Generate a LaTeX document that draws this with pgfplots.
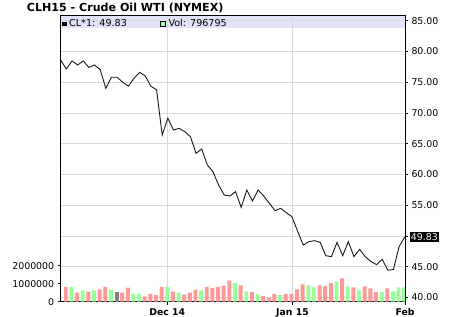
\documentclass[border=0pt]{standalone}
\usepackage{pgfplots}
\pgfplotsset{compat=1.18}
\usepackage{fontspec}
\setmainfont{DejaVu Sans}
\definecolor{volup}{RGB}{153,255,153}
\definecolor{voldn}{RGB}{255,153,153}
\definecolor{volflat}{RGB}{128,128,128}
\definecolor{bandc}{RGB}{226,226,250}
\definecolor{gridc}{RGB}{218,218,218}
\begin{document}
\begin{tikzpicture}
\path[use as bounding box, fill=white] (0,0) rectangle (450bp,317bp);
\fill[bandc] (60.7bp,288.7bp) rectangle (405bp,301.3bp);
% price axis
\begin{axis}[
  at={(60.7bp,15.3bp)}, anchor=south west, scale only axis,
  width=344.3bp, height=286bp,
  xmin=-0.9, xmax=60.15, ymin=39.32, ymax=85.81,
  clip mode=individual,
  xtick={18,40.2,60.15},
  xticklabels={\textbf{Dec 14},\textbf{Jan 15},\textbf{Feb}},
  ytick={40,45,50,55,60,65,70,75,80,85},
  yticklabels={40.00,45.00,{},55.00,60.00,65.00,70.00,75.00,80.00,85.00},
  xtick pos=bottom, ytick pos=right, yticklabel pos=right,
  tick align=outside, major tick length=3bp,
  tick style={black, line width=0.8bp},
  grid=major, grid style={gridc, line width=0.9bp},
  axis line style={black, line width=0.9bp},
  xticklabel style={font=\fontsize{9.3bp}{10bp}\selectfont},
  yticklabel style={font=\fontsize{9.4bp}{10bp}\selectfont},
]
\addplot[black!90, line width=0.9bp, mark=none] coordinates {
(-0.9,78.61) (0.1,77.15) (1.1,78.45) (2.1,77.80) (3.1,78.45) (4.1,77.40)
(5.1,77.80) (6.1,77.05) (7.1,74.01) (8.1,75.80) (9.1,75.80) (10.1,74.99)
(11.1,74.35) (12.1,75.65) (13.1,76.61) (14.1,76.01) (15.1,74.33) (16.1,73.78)
(17.1,66.42) (18.1,69.13) (19.1,67.23) (20.1,67.50) (21.1,66.96) (22.1,66.14)
(23.1,63.44) (24.1,64.14) (25.1,61.54) (26.1,60.45) (27.1,58.29) (28.1,56.66)
(29.1,56.50) (30.1,57.20) (31.1,54.66) (32.1,57.47) (33.1,55.69) (34.1,57.47)
(35.1,56.50) (36.1,55.31) (37.1,54.11) (38.1,54.50) (39.1,53.79) (40.1,53.14)
(41.1,50.80) (42.1,48.54) (43.1,49.07) (44.1,49.24) (45.1,48.97) (46.1,46.80)
(47.1,46.64) (48.1,48.97) (49.1,46.80) (50.1,49.07) (51.1,46.64) (52.1,47.84)
(53.1,46.64) (54.1,45.85) (55.1,45.35) (56.1,46.21) (57.1,44.45) (58.1,44.55)
(59.1,48.27) (60.1,49.83)
};
\node[anchor=west, fill=black, text=white, inner xsep=0.8bp, inner ysep=1.6bp,
  font=\fontsize{9.4bp}{10bp}\selectfont, xshift=5bp] at (axis cs:60.15,49.83) {49.83};
\end{axis}
% volume axis
\begin{axis}[
  at={(60.7bp,15.3bp)}, anchor=south west, scale only axis,
  width=344.3bp, height=286bp,
  xmin=-0.9, xmax=60.15, ymin=0, ymax=15890000,
  xtick=\empty,
  ytick={0,1000000,2000000},
  yticklabels={0,1000000,2000000},
  scaled y ticks=false,
  ytick pos=left, tick align=outside, major tick length=3bp,
  tick style={black, line width=0.8bp},
  axis line style={black, line width=0.9bp},
  yticklabel style={font=\fontsize{9.4bp}{10bp}\selectfont},
  ybar, bar width=0.7,
]
\addplot[fill=voldn, draw=none, bar shift=0pt] coordinates {
(0,830000) (2,510000) (4,560000) (6,690000) (7,830000) (10,510000) (11,780000)
(14,290000) (15,430000) (16,380000) (17,830000) (19,560000) (21,400000)
(22,510000) (23,670000) (25,830000) (26,760000) (27,830000) (28,890000)
(29,1170000) (31,910000) (33,530000) (35,310000) (36,220000) (37,420000)
(39,420000) (40,420000) (41,690000) (42,960000) (45,910000) (46,870000)
(47,1050000) (49,1290000) (51,800000) (53,850000) (54,740000) (55,530000)
(57,740000)
};
\addplot[fill=volup, draw=none, bar shift=0pt] coordinates {
(1,830000) (3,630000) (5,630000) (8,670000) (12,450000) (13,450000)
(18,830000) (20,510000) (24,630000) (30,1030000) (32,580000) (34,420000)
(38,360000) (43,910000) (44,800000) (48,1120000) (50,850000) (52,630000)
(56,530000) (58,580000) (59,800000) (60,796795)
};
\addplot[fill=volflat, draw=none, bar shift=0pt] coordinates {(9,560000)};
\end{axis}
% title and header
\node[anchor=base west, inner sep=0, font=\bfseries\fontsize{11.1bp}{13bp}\selectfont]
  at (26.7bp,305.3bp) {CLH15 - Crude Oil WTI (NYMEX)};
\fill[black] (61.7bp,290.6bp) rectangle (66.5bp,295.4bp);
\node[anchor=base west, inner sep=0, font=\fontsize{9.6bp}{10bp}\selectfont]
  at (69bp,290.3bp) {CL*1: 49.83};
\filldraw[fill=volup, draw=black, line width=0.8bp] (160.6bp,290.9bp) rectangle (165bp,295.2bp);
\node[anchor=base west, inner sep=0, font=\fontsize{9.6bp}{10bp}\selectfont]
  at (168.3bp,290.3bp) {Vol: 796795};
\end{tikzpicture}
\end{document}
